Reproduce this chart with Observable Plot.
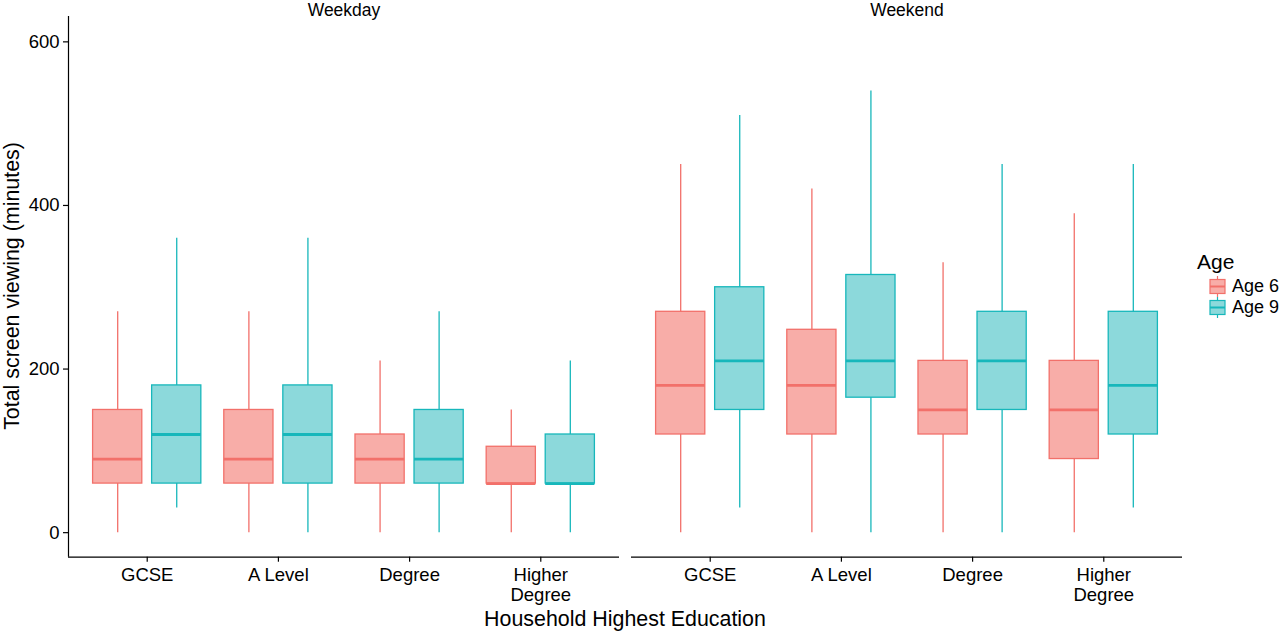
<!DOCTYPE html>
<html>
<head>
<meta charset="utf-8">
<script src="https://cdn.jsdelivr.net/npm/d3@7"></script>
<script src="https://cdn.jsdelivr.net/npm/@observablehq/plot@0.6"></script>
<style>
  html, body { margin: 0; padding: 0; background: #fff; }
  body { width: 1280px; height: 631px; position: relative; overflow: hidden;
         font-family: "Liberation Sans", Arial, Helvetica, sans-serif; color: #000; }
  #chart { position: absolute; left: 0; top: 0; }
  .title { position: absolute; font-size: 21.4px; white-space: nowrap; }
  #ytitle { left: 12px; top: 286px; transform: translate(-50%, -50%) rotate(-90deg); }
  #xtitle { left: 625px; top: 619px; transform: translate(-50%, -50%); }
  #legend { position: absolute; left: 1197px; top: 250px; font-size: 18px; }
  #legend .lt { font-size: 21px; margin-bottom: 2px; }
  #legend .item { display: flex; align-items: center; height: 21px; margin-left: 12px; }
  #legend svg { margin-right: 6px; }
</style>
</head>
<body>
<div id="chart"></div>
<div class="title" id="ytitle">Total screen viewing (minutes)</div>
<div class="title" id="xtitle">Household Highest Education</div>
<div id="legend"></div>
<script>
// ---- data ----
const categories = ["GCSE", "A Level", "Degree", "Higher Degree"];
const tickLabels = ["GCSE", "A Level", "Degree", "Higher\nDegree"];
const days = ["Weekday", "Weekend"];
const ages = ["Age 6", "Age 9"];
const yTicks = [0, 200, 400, 600];
// each entry: [min, q1, median, q3, max] per category
const weekdayAge6 = [[0, 60, 90, 150, 270], [0, 60, 90, 150, 270], [0, 60, 90, 120, 210], [0, 60, 60, 105, 150]];
const weekdayAge9 = [[30, 60, 120, 180, 360], [0, 60, 120, 180, 360], [0, 60, 90, 150, 270], [0, 60, 60, 120, 210]];
const weekendAge6 = [[0, 120, 180, 270, 450], [0, 120, 180, 248, 420], [0, 120, 150, 210, 330], [0, 90, 150, 210, 390]];
const weekendAge9 = [[30, 150, 210, 300, 510], [0, 165, 210, 315, 540], [0, 150, 210, 270, 450], [30, 120, 180, 270, 450]];

const ageStroke = ["#F2706A", "#17B7BB"];
const ageFill = ["#F8ADA8", "#8CD9DB"];

// ---- table ----
const series = [
  [days[0], ages[0], weekdayAge6], [days[0], ages[1], weekdayAge9],
  [days[1], ages[0], weekendAge6], [days[1], ages[1], weekendAge9]
];
const dodge = 0.225, half = 0.1875;
const rows = [];
for (const [day, age, vals] of series) {
  const a = ages.indexOf(age);
  vals.forEach((v, i) => {
    const xc = i + (a === 0 ? -dodge : dodge);
    rows.push({day, age, cat: categories[i], xc, x1: xc - half, x2: xc + half,
               min: v[0], q1: v[1], med: v[2], q3: v[3], max: v[4]});
  });
}
const yDomain = [-30, 631];
const xDomain = [-0.6, categories.length - 0.4];

const marks = [];
ages.forEach((age, a) => {
  const d = rows.filter(r => r.age === age);
  marks.push(Plot.ruleX(d, {x: "xc", y1: "min", y2: "max", fx: "day", stroke: ageStroke[a], strokeWidth: 1.3}));
  marks.push(Plot.rect(d, {x1: "x1", x2: "x2", y1: "q1", y2: "q3", fx: "day", fill: ageFill[a], stroke: ageStroke[a], strokeWidth: 1.3}));
  marks.push(Plot.ruleY(d, {y: "med", x1: "x1", x2: "x2", fx: "day", stroke: ageStroke[a], strokeWidth: 2.8}));
});

const chart = Plot.plot({
  width: 1280,
  height: 631,
  marginLeft: 67,
  marginRight: 97.3,
  marginTop: 16,
  marginBottom: 74.3,
  style: {fontFamily: '"Liberation Sans", Arial, Helvetica, sans-serif', color: "#000", background: "#fff", overflow: "visible"},
  fx: {domain: days, paddingInner: 0.021, paddingOuter: 0},
  x: {domain: xDomain},
  y: {domain: yDomain},
  marks: [
    ...marks,
    Plot.ruleY([yDomain[0]], {stroke: "#000", strokeWidth: 1.2}),
    Plot.ruleX([{day: days[0], x: xDomain[0]}], {x: "x", fx: "day", stroke: "#000", strokeWidth: 1.2}),
    Plot.axisFx({anchor: "top", tickSize: 0, tickPadding: 1, label: null, fontSize: 17.5}),
    Plot.axisX({ticks: categories.map((c, i) => i), tickFormat: i => tickLabels[i], tickSize: 5, tickPadding: 4,
                fontSize: 18.5, lineHeight: 1.1, label: null, stroke: "#000", strokeWidth: 1.2}),
    Plot.axisY({ticks: yTicks, tickSize: 5, tickPadding: 4, fontSize: 18.5, label: null, stroke: "#000", strokeWidth: 1.2})
  ]
});
document.getElementById("chart").appendChild(chart);

// ---- legend ----
const legend = document.getElementById("legend");
legend.innerHTML = '<div class="lt">Age</div>' + ages.map((age, a) =>
  `<div class="item"><svg width="17" height="21" viewBox="0 0 17 21">
     <line x1="8.5" x2="8.5" y1="0" y2="21" stroke="${ageStroke[a]}" stroke-width="1.2"/>
     <rect x="1" y="3.5" width="15" height="14" fill="${ageFill[a]}" stroke="${ageStroke[a]}" stroke-width="1.2"/>
     <line x1="1" x2="16" y1="10.5" y2="10.5" stroke="${ageStroke[a]}" stroke-width="2"/>
   </svg><span>${age}</span></div>`).join("");
</script>
</body>
</html>
